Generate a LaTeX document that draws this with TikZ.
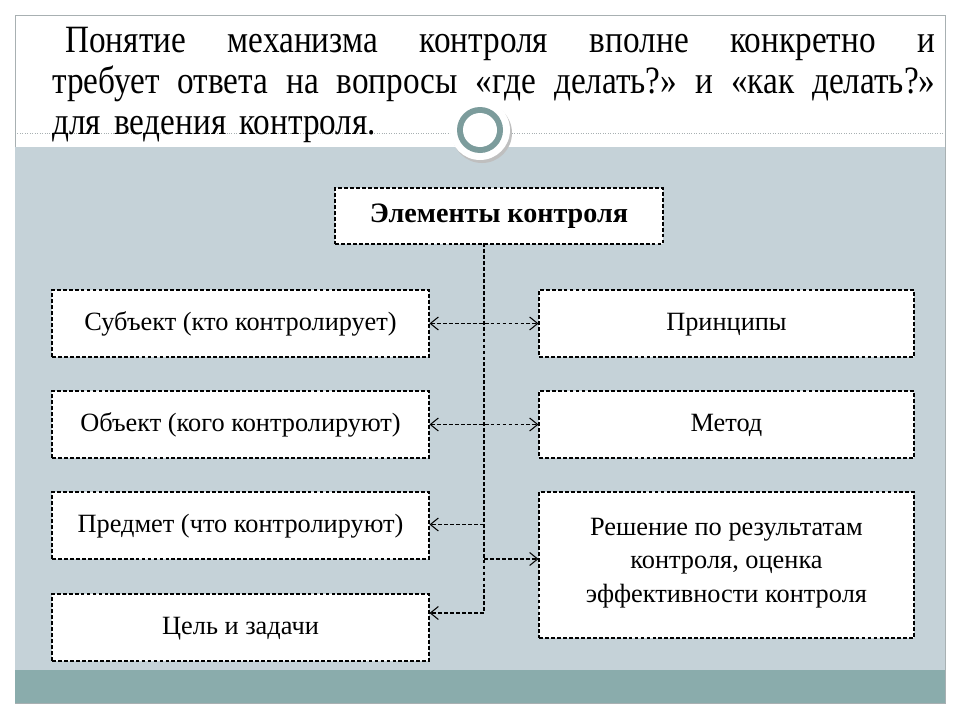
\documentclass[tikz,border=0pt]{standalone}
\usepackage{fontspec}
\setmainfont{Liberation Serif}
\newfontfamily\titlefont[FakeStretch=0.86]{Liberation Serif}
\usepackage{tikz}
\usetikzlibrary{arrows.meta,positioning,calc}
\definecolor{Slate}{HTML}{C5D2D8}
\definecolor{Teal}{HTML}{8AACAC}
\definecolor{Ring}{HTML}{7C9C9C}
\definecolor{Frame}{HTML}{A8B0B2}

\begin{document}
\begin{tikzpicture}[x=0.02cm,y=-0.02cm,
    item/.style={rectangle,draw=black,fill=white,dash pattern=on 2.2pt off 1.2pt,line width=0.6pt,align=center,font=\fontsize{15}{19}\selectfont,inner sep=0pt,execute at begin node=\strut},
    leftbox/.style={item,minimum width=377*0.02cm,minimum height=67*0.02cm},
    rightbox/.style={item,minimum width=375*0.02cm,minimum height=67*0.02cm},
    link/.style={draw=black,line width=0.6pt,dash pattern=on 2.2pt off 1.2pt},
    arrow/.style={link,-{Straight Barb[length=1.6mm,width=2.6mm]}},
    twoway/.style={link,{Straight Barb[length=1.6mm,width=2.6mm]}-{Straight Barb[length=1.6mm,width=2.6mm]}}
]
\useasboundingbox (0,0) rectangle (960,720);
% slide
\fill[white] (0,0) rectangle (960,720);
\draw[Frame,fill=white] (15,15) rectangle (945,703);
\fill[Slate] (15,147) rectangle (945,670);
\fill[Teal] (15,670) rectangle (945,703);
\draw[Frame,densely dotted] (15,133) -- (945,133);
% title text
\node[anchor=north west,text width=883*0.02cm,align=left,inner sep=0pt,
  font=\titlefont\fontsize{22}{23.3}\selectfont] (title) at (52,27)
  {\makebox[\linewidth][l]{\hspace*{0.26cm}Понятие\hfill механизма\hfill контроля\hfill вполне\hfill конкретно\hfill и}\\
   \makebox[\linewidth][l]{требует\hfill ответа\hfill на\hfill вопросы\hfill «где\hfill делать?»\hfill и\hfill «как\hfill делать?»}\\
   для ведения контроля.};
% ring
\fill[black!25] (482,133) circle (30);
\fill[white] (480,130) circle (30);
\fill[Ring] (480,130) circle (23);
\fill[white] (480,130) circle (17);
% boxes
\node[item,minimum width=328*0.02cm,minimum height=56*0.02cm,font=\bfseries\fontsize{16}{19}\selectfont] (elem) at (499,216) {Элементы контроля};
\node[leftbox] (subj) at (240.5,323.5) {Субъект (кто контролирует)};
\node[leftbox] (obj) at (240.5,424.5) {Объект (кого контролируют)};
\node[leftbox] (pred) at (240.5,525.5) {Предмет (что контролируют)};
\node[leftbox] (goal) at (240.5,627.5) {Цель и задачи};
\node[rightbox] (princ) at (726.5,323.5) {Принципы};
\node[rightbox] (meth) at (726.5,424.5) {Метод};
\node[rightbox,minimum height=146*0.02cm] (res) at (726.5,565) {Решение по результатам\\контроля, оценка\\эффективности контроля};
% connectors
\coordinate (t1) at (484,243);
\coordinate (t3) at (484,524.5);
\coordinate (t4) at (484,559);
\coordinate (t5) at (484,613);
\draw[link] (t1) -- (t5);
\draw[twoway] (subj) -- (princ);
\draw[twoway] (obj) -- (meth);
\draw[arrow] (t3) -- (t3 -| pred.east);
\draw[arrow] (t4) -- (t4 -| res.west);
\draw[arrow] (t5) -- (t5 -| goal.east);
\end{tikzpicture}
\end{document}
